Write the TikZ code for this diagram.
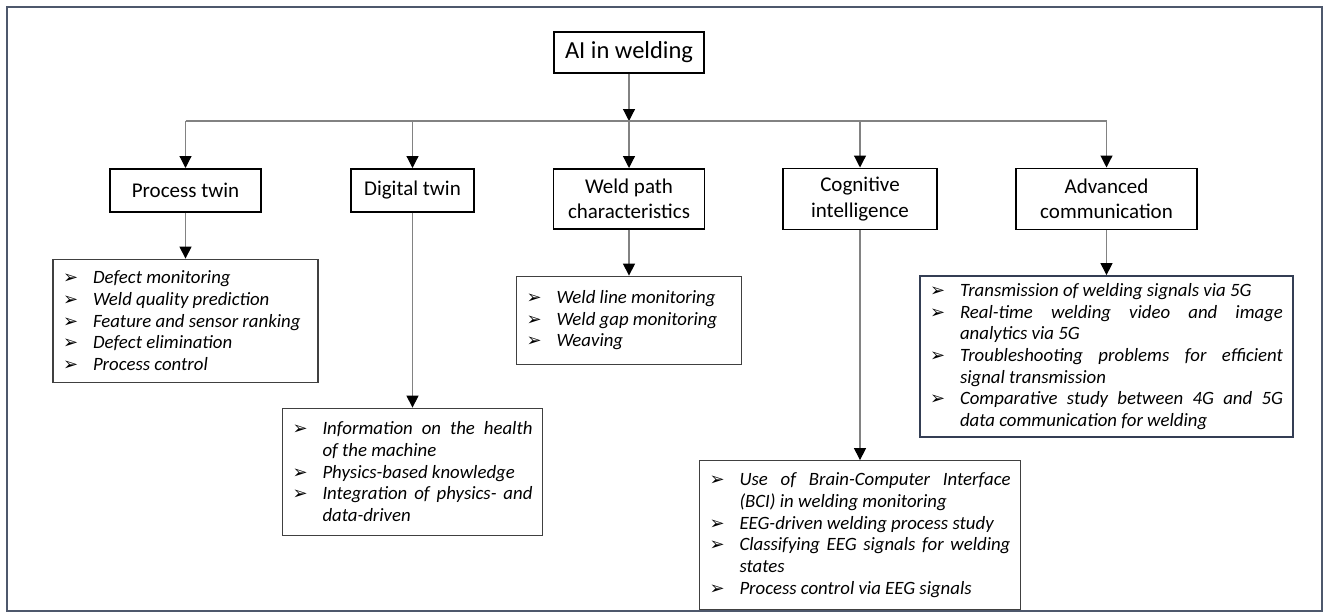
\documentclass[tikz,border=0pt]{standalone}
\usepackage{fontspec}
\setmainfont{Carlito}
\newfontfamily\dejavu{DejaVu Sans}
\usetikzlibrary{positioning, arrows.meta}
\definecolor{framecol}{RGB}{78,88,108}
\definecolor{linkgray}{RGB}{130,130,130}
\definecolor{advborder}{RGB}{52,62,84}
\hyphenpenalty=10000
\tolerance=9999

\newcommand{\tipsym}{{\dejavu\fontsize{18}{18}\selectfont ➢}}
\newcommand{\bulletitem}[1]{\noindent\hangindent=30pt\hangafter=1\makebox[30pt][l]{\hspace{0pt}\tipsym}#1\par}

\begin{document}
\begin{tikzpicture}[
    x=1pt, y=-1pt,
    topbox/.style={
        rectangle,
        draw=black,
        line width=1.6pt,
        align=center,
        inner sep=0pt,
        font=\fontsize{21}{25.6}\selectfont
    },
    listbox/.style={
        rectangle,
        draw=black!75,
        line width=1.1pt,
        inner xsep=10pt,
        inner ysep=0pt,
        text width=#1,
        align=justify,
        font=\fontsize{18.8}{21.7}\selectfont\itshape
    },
    link/.style={draw=linkgray, line width=1.2pt},
    arrow/.style={link, -{Triangle[width=12pt, length=12pt, color=black]}}
]
\useasboundingbox (0,0) rectangle (1329,613);

% --- Rahmen ---
\draw[framecol, line width=1.2pt] (7,7) rectangle (1322,611);

% --- Wurzel und Kategorien ---
\node[topbox, font=\fontsize{24.5}{29}\selectfont, minimum width=150pt, minimum height=41pt] (root) at (629,52.5) {AI in welding};
\node[topbox, minimum width=151pt, minimum height=43pt, anchor=north] (ptwin) at (185.5,168) {Process twin};
\node[topbox, minimum width=123pt, minimum height=43pt, anchor=north] (dtwin) at (412.5,168) {Digital twin};
\node[topbox, minimum width=151pt, minimum height=60pt, anchor=north] (wpath) at (629,168) {Weld path\\characteristics};
\node[topbox, minimum width=154pt, minimum height=61pt, anchor=north] (cogint) at (860,167.5) {Cognitive\\intelligence};
\node[topbox, minimum width=181pt, minimum height=61pt, anchor=north] (advcom) at (1106.5,167.5) {Advanced\\communication};

% --- Listen ---
\node[listbox=245pt, minimum height=123pt, below=46pt of ptwin] (ptlist) {
    \bulletitem{Defect monitoring}
    \bulletitem{Weld quality prediction}
    \bulletitem{Feature and sensor ranking}
    \bulletitem{Defect elimination}
    \bulletitem{Process control}};
\node[listbox=240pt, minimum height=127pt, below=195pt of dtwin] (dtlist) {
    \bulletitem{Information on the health\linebreak of the machine}
    \bulletitem{Physics-based knowledge}
    \bulletitem{Integration of physics- and\linebreak data-driven}};
\node[listbox=205pt, minimum height=88pt, below=46pt of wpath] (wplist) {
    \bulletitem{Weld line monitoring}
    \bulletitem{Weld gap monitoring}
    \bulletitem{Weaving}};
\node[listbox=301pt, minimum height=149pt, below=230pt of cogint] (coglist) {
    \bulletitem{Use of Brain-Computer Interface\linebreak (BCI) in welding monitoring}
    \bulletitem{EEG-driven welding process study}
    \bulletitem{Classifying EEG signals for welding\linebreak states}
    \bulletitem{Process control via EEG signals}};
\node[listbox=353pt, minimum height=161pt, draw=advborder, line width=1.8pt, below=45pt of advcom] (advlist) {
    \bulletitem{Transmission of welding signals via 5G}
    \bulletitem{Real-time welding video and image\linebreak analytics via 5G}
    \bulletitem{Troubleshooting problems for efficient\linebreak signal transmission}
    \bulletitem{Comparative study between 4G and 5G\linebreak data communication for welding}};

% --- Pfeile ---
\coordinate (bus) at (629,121);
\draw[arrow] (root) -- (root |- bus);
\draw[link] (ptwin.north |- bus) -- (advcom.north |- bus);
\foreach \cat in {ptwin, dtwin, wpath, cogint, advcom}
    \draw[arrow] (\cat.north |- bus) -- (\cat);
\foreach \cat/\lst in {ptwin/ptlist, dtwin/dtlist, wpath/wplist, cogint/coglist, advcom/advlist}
    \draw[arrow] (\cat) -- (\lst);

\end{tikzpicture}
\end{document}
